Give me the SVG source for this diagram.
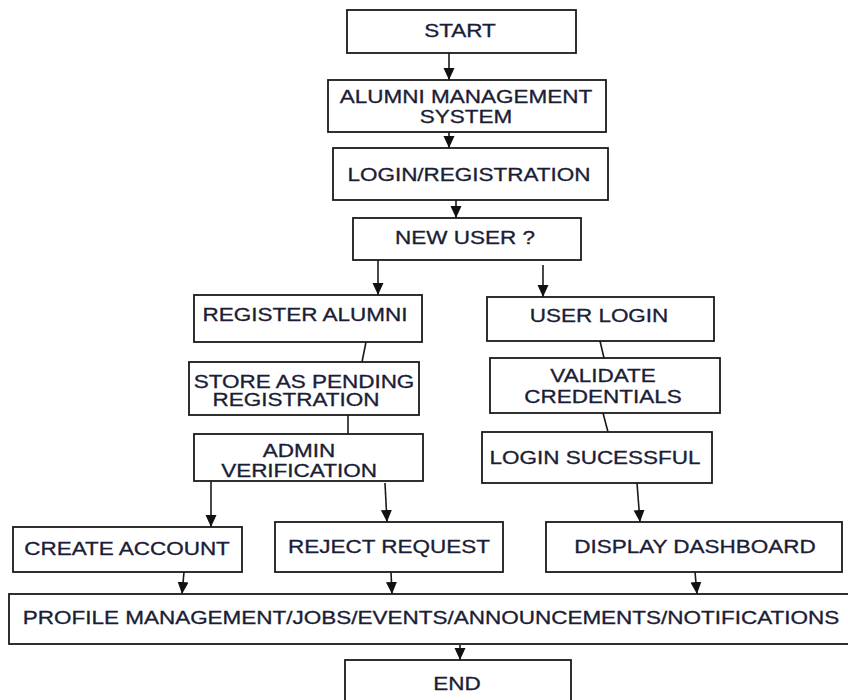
<svg xmlns="http://www.w3.org/2000/svg" width="848" height="700" viewBox="0 0 848 700">
<defs>
<marker id="ah" markerUnits="userSpaceOnUse" markerWidth="12" markerHeight="13" refX="12" refY="6" orient="auto">
<path d="M0,0.5 L12,6 L0,11.5 z" fill="#111"/>
</marker>
<style>
.b{fill:#fff;stroke:#1a1a1a;stroke-width:1.8}
.t{font-family:"Liberation Sans",Arial,sans-serif;font-size:18px;fill:#1b1d36;stroke:#1b1d36;stroke-width:0.3;text-anchor:middle}
.c{fill:none;stroke:#1a1a1a;stroke-width:1.6}
.a{marker-end:url(#ah)}
</style>
</defs>
<rect width="848" height="700" fill="#fff"/>
<g id="connectors">
<line class="c a" x1="449" y1="53" x2="449" y2="80"/>
<line class="c a" x1="449" y1="132" x2="449" y2="148"/>
<line class="c a" x1="456" y1="200" x2="456" y2="218"/>
<line class="c a" x1="378" y1="260" x2="378" y2="295"/>
<line class="c a" x1="543" y1="265" x2="543" y2="297"/>
<line class="c" x1="366" y1="342" x2="362" y2="362"/>
<line class="c" x1="348" y1="415" x2="348" y2="434"/>
<line class="c" x1="600" y1="341" x2="604" y2="358"/>
<line class="c" x1="603" y1="413" x2="608" y2="432"/>
<line class="c a" x1="211" y1="481" x2="211" y2="527"/>
<line class="c a" x1="385" y1="483" x2="387" y2="522"/>
<line class="c a" x1="637" y1="483" x2="640" y2="522"/>
<line class="c a" x1="184" y1="572" x2="182" y2="594"/>
<line class="c a" x1="391" y1="572" x2="392" y2="594"/>
<line class="c a" x1="695" y1="572" x2="697" y2="594"/>
<line class="c a" x1="460" y1="645" x2="460" y2="660"/>
</g>
<g id="start"><rect class="b" x="347" y="10" width="229" height="43"/><text class="t" transform="translate(460,37) scale(1.25,1)">START</text></g>
<g id="ams"><rect class="b" x="328" y="80" width="278" height="52"/><text class="t" transform="translate(466,103) scale(1.25,1)">ALUMNI MANAGEMENT</text><text class="t" transform="translate(466,123) scale(1.25,1)">SYSTEM</text></g>
<g id="login-reg"><rect class="b" x="333" y="148" width="275" height="52"/><text class="t" transform="translate(469,181) scale(1.25,1)">LOGIN/REGISTRATION</text></g>
<g id="new-user"><rect class="b" x="353" y="218" width="228" height="42"/><text class="t" transform="translate(465,244) scale(1.25,1)">NEW USER ?</text></g>
<g id="register"><rect class="b" x="194" y="295" width="228" height="47"/><text class="t" transform="translate(305,321) scale(1.25,1)">REGISTER ALUMNI</text></g>
<g id="user-login"><rect class="b" x="487" y="297" width="227" height="44"/><text class="t" transform="translate(599,322) scale(1.25,1)">USER LOGIN</text></g>
<g id="store"><rect class="b" x="189" y="362" width="230" height="53"/><text class="t" transform="translate(304,388) scale(1.25,1)">STORE AS PENDING</text><text class="t" transform="translate(296,406) scale(1.25,1)">REGISTRATION</text></g>
<g id="admin"><rect class="b" x="194" y="434" width="229" height="47"/><text class="t" transform="translate(299,457) scale(1.25,1)">ADMIN</text><text class="t" transform="translate(299,477) scale(1.25,1)">VERIFICATION</text></g>
<g id="validate"><rect class="b" x="490" y="358" width="230" height="55"/><text class="t" transform="translate(603,382) scale(1.25,1)">VALIDATE</text><text class="t" transform="translate(603,403) scale(1.25,1)">CREDENTIALS</text></g>
<g id="login-ok"><rect class="b" x="482" y="432" width="230" height="51"/><text class="t" transform="translate(595,464) scale(1.25,1)">LOGIN SUCESSFUL</text></g>
<g id="create"><rect class="b" x="13" y="527" width="229" height="45"/><text class="t" transform="translate(127,555) scale(1.25,1)">CREATE ACCOUNT</text></g>
<g id="reject"><rect class="b" x="275" y="522" width="228" height="50"/><text class="t" transform="translate(389,553) scale(1.25,1)">REJECT REQUEST</text></g>
<g id="dashboard"><rect class="b" x="546" y="522" width="296" height="50"/><text class="t" transform="translate(695,553) scale(1.25,1)">DISPLAY DASHBOARD</text></g>
<g id="profile"><rect class="b" x="9" y="594" width="845" height="50"/><text class="t" transform="translate(431,624) scale(1.25,1)">PROFILE MANAGEMENT/JOBS/EVENTS/ANNOUNCEMENTS/NOTIFICATIONS</text></g>
<g id="end"><rect class="b" x="345" y="660" width="226" height="45"/><text class="t" transform="translate(457,690) scale(1.25,1)">END</text></g>
</svg>
